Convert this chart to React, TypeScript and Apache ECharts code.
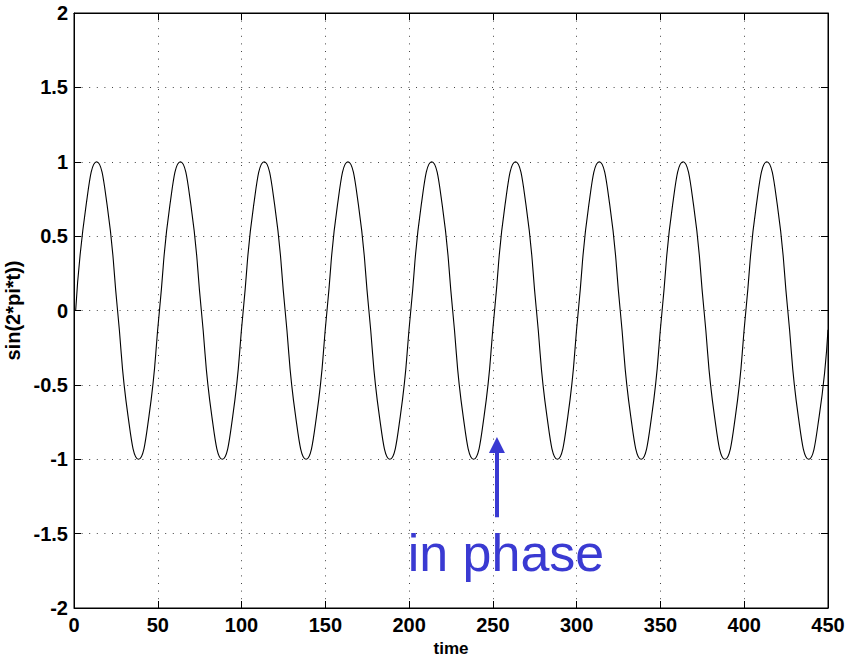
import React, { useEffect, useRef } from "react";
import * as echarts from "echarts";

// sample positions (x index)
const timeValues = [
  1, 7.25, 13.5, 19.75, 26, 32.25, 38.5, 44.75,
  51, 57.25, 63.5, 69.75, 76, 82.25, 88.5, 94.75,
  101, 107.25, 113.5, 119.75, 126, 132.25, 138.5, 144.75,
  151, 157.25, 163.5, 169.75, 176, 182.25, 188.5, 194.75,
  201, 207.25, 213.5, 219.75, 226, 232.25, 238.5, 244.75,
  251, 257.25, 263.5, 269.75, 276, 282.25, 288.5, 294.75,
  301, 307.25, 313.5, 319.75, 326, 332.25, 338.5, 344.75,
  351, 357.25, 363.5, 369.75, 376, 382.25, 388.5, 394.75,
  401, 407.25, 413.5, 419.75, 426, 432.25, 438.5, 444.75,
  450,
];
const sineValues = [
  0, 0.71, 1, 0.71, 0, -0.71, -1, -0.71,
  0, 0.71, 1, 0.71, 0, -0.71, -1, -0.71,
  0, 0.71, 1, 0.71, 0, -0.71, -1, -0.71,
  0, 0.71, 1, 0.71, 0, -0.71, -1, -0.71,
  0, 0.71, 1, 0.71, 0, -0.71, -1, -0.71,
  0, 0.71, 1, 0.71, 0, -0.71, -1, -0.71,
  0, 0.71, 1, 0.71, 0, -0.71, -1, -0.71,
  0, 0.71, 1, 0.71, 0, -0.71, -1, -0.71,
  0, 0.71, 1, 0.71, 0, -0.71, -1, -0.71,
  -0.13,
];

const xRange = [0, 450];
const yRange = [-2, 2];
const xStep = 50;
const yStep = 0.5;

const annotationText = "in phase";
const arrowX = 252.4;
const arrowFromY = -1.39;
const arrowToY = -0.905;
const textPos = [257.8, -1.63];

const FONT = "'Liberation Sans', Arial, Helvetica, sans-serif";
const BLUE = "#3a3ad2";

export default function App() {
  const ref = useRef<HTMLDivElement>(null);

  useEffect(() => {
    document.body.style.margin = "0";
    const chart = echarts.init(ref.current!, null, { renderer: "svg" });
    const data = timeValues.map((t, i) => [t, sineValues[i]]);

    const gridLine = {
      show: true,
      lineStyle: { color: "#444", width: 1, type: [1, 6.6] as any },
    };
    const tick = { show: true, inside: true, length: 7, lineStyle: { color: "#000", width: 1 } };
    const axisLabel = { color: "#000", fontSize: 20, fontWeight: "bold" as const, fontFamily: FONT };

    chart.setOption({
      animation: false,
      backgroundColor: "#fff",
      grid: {
        left: 74,
        right: 18,
        top: 13,
        bottom: 49,
        containLabel: false,
        outerBoundsMode: "none",
        show: true,
        borderColor: "#000",
        borderWidth: 1,
      },
      xAxis: [
        {
          type: "value",
          min: xRange[0],
          max: xRange[1],
          interval: xStep,
          position: "bottom",
          name: "time",
          nameLocation: "middle",
          nameGap: 27,
          nameTextStyle: { color: "#000", fontSize: 17, lineHeight: 17, fontWeight: "bold", fontFamily: FONT },
          axisLine: { show: true, onZero: false, lineStyle: { color: "#000", width: 1 } },
          axisTick: tick,
          axisLabel: { ...axisLabel, margin: 7 },
          splitLine: gridLine,
        },
        {
          type: "value",
          min: xRange[0],
          max: xRange[1],
          interval: xStep,
          position: "top",
          axisLine: { show: true, onZero: false, lineStyle: { color: "#000", width: 1 } },
          axisTick: tick,
          axisLabel: { show: false },
          splitLine: { show: false },
        },
      ],
      yAxis: [
        {
          type: "value",
          min: yRange[0],
          max: yRange[1],
          interval: yStep,
          position: "left",
          name: "sin(2*pi*t))",
          nameLocation: "middle",
          nameGap: 46,
          nameTextStyle: { color: "#000", fontSize: 20, fontWeight: "bold", fontFamily: FONT },
          axisLine: { show: true, onZero: false, lineStyle: { color: "#000", width: 1 } },
          axisTick: tick,
          axisLabel: { ...axisLabel, margin: 6 },
          splitLine: gridLine,
        },
        {
          type: "value",
          min: yRange[0],
          max: yRange[1],
          interval: yStep,
          position: "right",
          axisLine: { show: true, onZero: false, lineStyle: { color: "#000", width: 1 } },
          axisTick: tick,
          axisLabel: { show: false },
          splitLine: { show: false },
        },
      ],
      series: [
        {
          type: "line",
          data,
          smooth: 0.5,
          showSymbol: false,
          symbol: "none",
          silent: true,
          lineStyle: { color: "#000", width: 1.1 },
          markLine: {
            silent: true,
            symbol: ["none", "triangle"],
            symbolSize: 16,
            label: { show: false },
            lineStyle: { color: BLUE, width: 4, type: "solid" },
            itemStyle: { color: BLUE },
            emphasis: { disabled: true },
            data: [[{ coord: [arrowX, arrowFromY] }, { coord: [arrowX, arrowToY] }]],
          },
          markPoint: {
            silent: true,
            data: [
              {
                coord: textPos,
                symbol: "circle",
                symbolSize: 0,
                label: {
                  show: true,
                  position: "inside",
                  formatter: annotationText,
                  color: BLUE,
                  fontSize: 52,
                  fontFamily: FONT,
                },
              },
            ],
          },
        },
      ],
    });

    return () => chart.dispose();
  }, []);

  return <div ref={ref} style={{ width: 846, height: 657 }} />;
}
